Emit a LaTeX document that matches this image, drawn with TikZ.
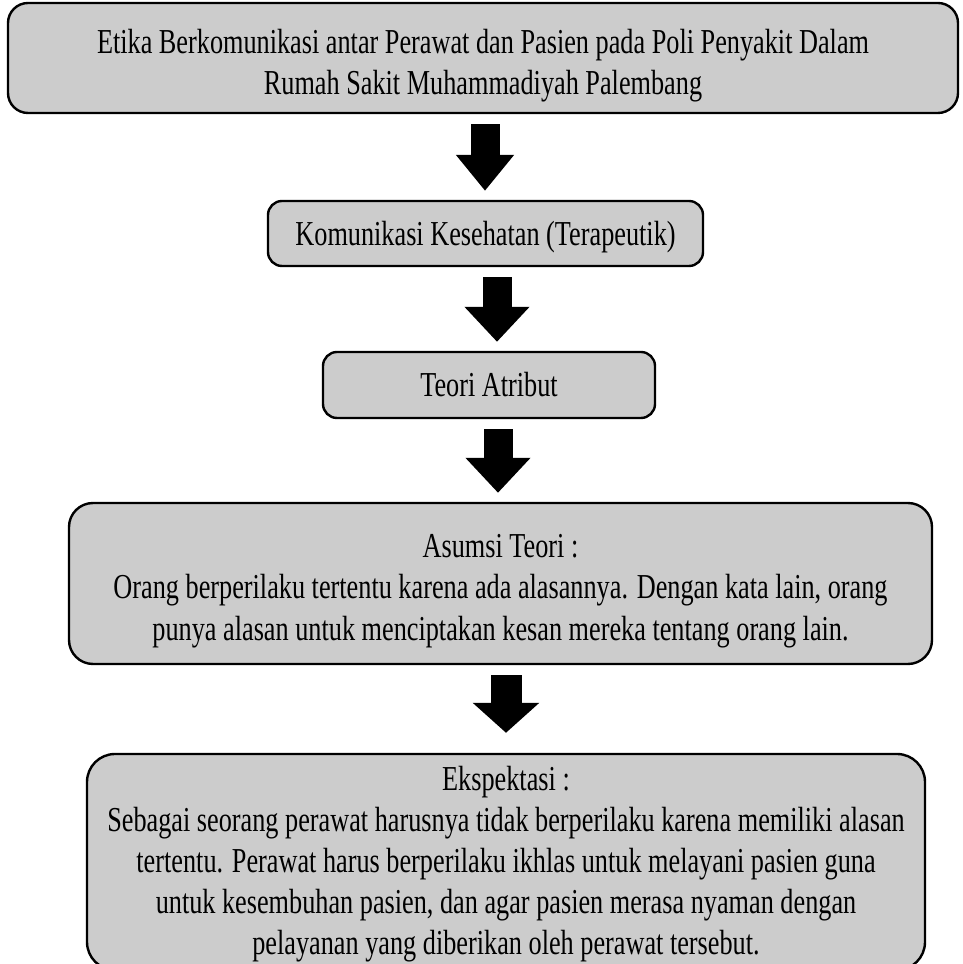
\documentclass[tikz,border=0pt]{standalone}
\usepackage{fontspec}
\setmainfont{Liberation Serif}[FakeStretch=0.75]
\usetikzlibrary{arrows.meta}

\begin{document}
\begin{tikzpicture}[x=1pt,y=1pt,
  box/.style={draw=drawColor,fill=fillColor,line width=2.4pt,rounded corners=14pt,
    inner sep=0pt,align=center,text=drawColor,font=\fontsize{35}{41.5}\selectfont},
  flowarrow/.style={draw=drawColor,line width=29pt,
    -{Triangle[width=63pt,length=35pt]},shorten <=10pt,shorten >=9pt}]
\definecolor{fillColor}{RGB}{255,255,255}
\path[use as bounding box,fill=fillColor] (0,0) rectangle (963,964);
\begin{scope}
\path[clip] (0,0) rectangle (963,964);
\definecolor{drawColor}{RGB}{0,0,0}
\definecolor{fillColor}{RGB}{204,204,204}

\node[box,rounded corners=20pt,minimum width=950pt,minimum height=110pt] (etika) at (483,906)
  {\rule{0pt}{40pt}Etika Berkomunikasi antar Perawat dan Pasien pada Poli Penyakit Dalam\\
   Rumah Sakit Muhammadiyah Palembang};

\node[box,minimum width=435pt,minimum height=65pt] (komunikasi) at (485.5,730.5)
  {\rule{0pt}{32pt}Komunikasi Kesehatan (Terapeutik)};

\node[box,minimum width=332pt,minimum height=66pt] (teori) at (489,579)
  {Teori Atribut};

\node[box,rounded corners=24pt,minimum width=863pt,minimum height=161pt] (asumsi) at (500.5,380.5)
  {\rule{0pt}{38pt}Asumsi Teori :\\
   Orang berperilaku tertentu karena ada alasannya. Dengan kata lain, orang\\
   punya alasan untuk menciptakan kesan mereka tentang orang lain.};

\node[box,rounded corners=28pt,minimum width=838pt,minimum height=216pt,
  font=\fontsize{35}{41}\selectfont] (ekspektasi) at (506,102)
  {\rule{0pt}{28pt}Ekspektasi :\\
   Sebagai seorang perawat harusnya tidak berperilaku karena memiliki alasan\\
   tertentu. Perawat harus berperilaku ikhlas untuk melayani pasien guna\\
   untuk kesembuhan pasien, dan agar pasien merasa nyaman dengan\\
   pelayanan yang diberikan oleh perawat tersebut.};

\coordinate (a1) at (485,0);
\coordinate (a2) at (497,0);
\coordinate (a3) at (498,0);
\coordinate (a4) at (506,0);

\draw[flowarrow,-{Triangle[width=56pt,length=36pt]}] (etika.south -| a1) -- (komunikasi.north -| a1);
\draw[flowarrow] (komunikasi.south -| a2) -- (teori.north -| a2);
\draw[flowarrow] (teori.south -| a3) -- (asumsi.north -| a3);
\draw[flowarrow,line width=31pt,-{Triangle[width=65pt,length=30pt]},shorten >=20pt] (asumsi.south -| a4) -- (ekspektasi.north -| a4);
\end{scope}
\end{tikzpicture}
\end{document}
